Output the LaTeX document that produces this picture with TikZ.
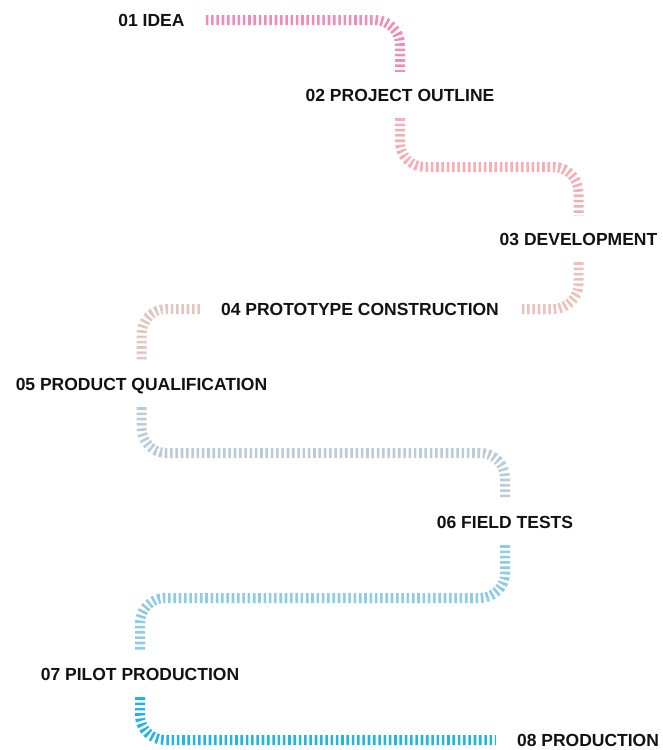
\documentclass[tikz,border=0pt]{standalone}
\usepackage{fontspec}
\setmainfont{Liberation Sans}
\usetikzlibrary{calc}

\definecolor{trailA}{HTML}{EF8CB8}
\definecolor{trailB}{HTML}{F6AEB6}
\definecolor{trailC}{HTML}{EBC1BB}
\definecolor{trailD}{HTML}{E2C6C0}
\definecolor{trailE}{HTML}{BACCD9}
\definecolor{trailF}{HTML}{8FCBE4}
\definecolor{trailG}{HTML}{22B5E3}

\tikzset{
    stage/.style={font=\bfseries\fontsize{17.5}{20}\selectfont, text=black!93,
        inner xsep=21pt, inner ysep=0pt, text height=12.5pt, text depth=0pt,
        minimum height=46pt},
    trail/.style={line width=10pt, dash pattern=on 2.6pt off 2.7pt, rounded corners=25pt}
}

\begin{document}
\begin{tikzpicture}[x=1pt,y=-1pt]
    \useasboundingbox (0,0) rectangle (662,750);

    \node[stage] (idea)    at (151.5,20)  {01 IDEA};
    \node[stage] (outline) at (400,95)    {02 PROJECT OUTLINE};
    \node[stage] (develop) at (578.5,239) {03 DEVELOPMENT};
    \node[stage] (proto)   at (360,309)   {04 PROTOTYPE CONSTRUCTION};
    \node[stage] (qualif)  at (141.5,384) {05 PRODUCT QUALIFICATION};
    \node[stage] (field)   at (505,522)   {06 FIELD TESTS};
    \node[stage] (pilot)   at (140,674)   {07 PILOT PRODUCTION};
    \node[stage] (prod)    at (588,740)   {08 PRODUCTION};

    \draw[trail,trailA] (idea.east) -| (outline.north);
    \draw[trail,trailB] (outline.south) |- ($(outline.south)!.5!(develop.north)$) -| (develop.north);
    \draw[trail,trailC] (develop.south) |- (proto.east);
    \draw[trail,trailD] (proto.west) -| (qualif.north);
    \draw[trail,trailE] (qualif.south) |- ($(qualif.south)!.5!(field.north)$) -| (field.north);
    \draw[trail,trailF] (field.south) |- ($(field.south)!.5!(pilot.north)$) -| (pilot.north);
    \draw[trail,trailG] (pilot.south) |- (prod.west);

\end{tikzpicture}
\end{document}
